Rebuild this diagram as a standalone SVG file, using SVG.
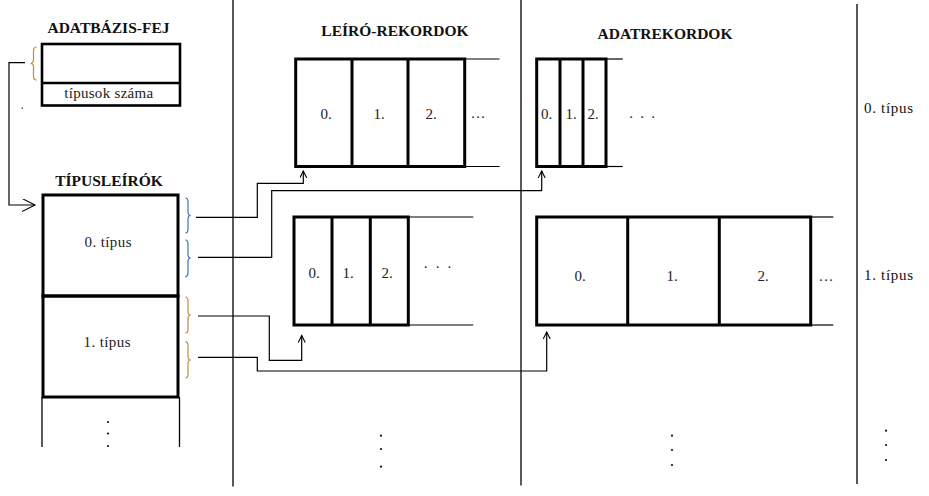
<svg xmlns="http://www.w3.org/2000/svg" width="929" height="496" viewBox="0 0 929 496">
<style>
.title{font-family:"Liberation Serif",serif;font-weight:bold;font-size:15.5px;fill:#111;text-anchor:middle}
.lbl{font-family:"Liberation Serif",serif;font-size:15px;fill:#222;text-anchor:middle}
.rlbl{font-family:"Liberation Serif",serif;font-size:15px;fill:#111}
.thick{fill:none;stroke:#000;stroke-width:3}
.med{fill:none;stroke:#000;stroke-width:2.6}
.thin{fill:none;stroke:#000;stroke-width:1.2}
.div{fill:none;stroke:#000;stroke-width:1.3}
.conn{fill:none;stroke:#000;stroke-width:1.2}
.bb{fill:none;stroke:#3b74bd;stroke-width:1.2}
.bo{fill:none;stroke:#c98a3a;stroke-width:1.2}
.dot{fill:#111}
</style>
<defs>
<marker id="big" markerUnits="userSpaceOnUse" markerWidth="15" markerHeight="15" refX="13" refY="6.5" orient="auto">
<path d="M0,0 L13,6.5 L0,13" fill="none" stroke="#000" stroke-width="1.1"/>
</marker>
<marker id="small" markerUnits="userSpaceOnUse" markerWidth="9" markerHeight="9" refX="7" refY="3.5" orient="auto">
<path d="M0,0 L7,3.5 L0,7" fill="none" stroke="#000" stroke-width="1.1"/>
</marker>
</defs>
<rect width="929" height="496" fill="#fff"/>

<g id="dividers">
<line class="div" x1="233" y1="0" x2="233" y2="486.5"/>
<line class="div" x1="521" y1="0" x2="521" y2="485.5"/>
<line class="div" x1="857" y1="4" x2="857" y2="484"/>
</g>

<g id="adatbazis-fej">
<text class="title" x="108.5" y="33">ADATBÁZIS-FEJ</text>
<rect class="med" x="42" y="44" width="138" height="61.5"/>
<line class="med" x1="42" y1="83" x2="180" y2="83"/>
<text class="lbl" x="108.7" y="98" font-size="14" textLength="89" lengthAdjust="spacing">típusok száma</text>
<path class="bo" d="M36.5,47 Q33.5,47 33.5,51 L33.5,59.5 Q33.5,63.3 30.5,63.3 Q33.5,63.3 33.5,67 L33.5,76 Q33.5,80 36.5,80"/>
<rect x="21.5" y="107.5" width="1.5" height="1.5" fill="#555"/>
</g>

<g id="tipusleirok">
<text class="title" x="109" y="186">TÍPUSLEÍRÓK</text>
<rect class="thick" x="43" y="195" width="135" height="101"/>
<rect class="thick" x="43" y="296" width="135" height="101"/>
<text class="lbl" x="108" y="247" textLength="47" lengthAdjust="spacing">0. típus</text>
<text class="lbl" x="107" y="347" textLength="47" lengthAdjust="spacing">1. típus</text>
<line class="div" x1="42" y1="397" x2="42" y2="447"/>
<line class="div" x1="179.5" y1="397" x2="179.5" y2="447"/>
<circle class="dot" cx="108" cy="422" r="1.1"/>
<circle class="dot" cx="108" cy="433.5" r="1.1"/>
<circle class="dot" cx="108" cy="446" r="1.1"/>
<path class="bb" d="M185.3,198 Q188,198 188,202 L188,212 Q188,215.5 190.7,215.5 Q188,215.5 188,219 L188,229 Q188,233 185.3,233"/>
<path class="bb" d="M185.3,240 Q188,240 188,244 L188,254.5 Q188,258 190.7,258 Q188,258 188,261.5 L188,272.5 Q188,276.7 185.3,276.7"/>
<path class="bo" d="M185.3,297 Q188,297 188,301 L188,311.5 Q188,315 190.7,315 Q188,315 188,318.5 L188,329 Q188,333 185.3,333"/>
<path class="bo" d="M185.3,341.7 Q188,341.7 188,345.7 L188,356.5 Q188,360 190.7,360 Q188,360 188,363.5 L188,374 Q188,378 185.3,378"/>
</g>

<g id="leiro-rekordok-title">
<text class="title" x="395" y="35.5">LEÍRÓ-REKORDOK</text>
</g>
<g id="adatrekordok-title">
<text class="title" x="665" y="38.5">ADATREKORDOK</text>
</g>

<g id="leiro-0">
<rect class="thick" x="295.7" y="59" width="169" height="107.5"/>
<line class="thick" x1="352" y1="59" x2="352" y2="166.5"/>
<line class="thick" x1="408" y1="59" x2="408" y2="166.5"/>
<line class="thin" x1="464.7" y1="59" x2="499.5" y2="59"/>
<line class="thin" x1="464.7" y1="166.5" x2="499.5" y2="166.5"/>
<text class="lbl" x="326" y="119">0.</text>
<text class="lbl" x="379" y="119">1.</text>
<text class="lbl" x="431" y="119">2.</text>
<text class="lbl" x="478" y="118">…</text>
</g>

<g id="adat-0">
<rect class="thick" x="536.7" y="59" width="69.3" height="107.5"/>
<line class="thick" x1="560" y1="59" x2="560" y2="166.5"/>
<line class="thick" x1="583" y1="59" x2="583" y2="166.5"/>
<line class="thin" x1="606" y1="59" x2="622.7" y2="59"/>
<line class="thin" x1="606" y1="166.5" x2="622.7" y2="166.5"/>
<text class="lbl" x="546.7" y="119">0.</text>
<text class="lbl" x="571" y="119">1.</text>
<text class="lbl" x="593" y="119">2.</text>
<text class="lbl" x="631 642 653" y="118">...</text>
</g>

<g id="leiro-1">
<rect class="thick" x="294" y="217" width="114.3" height="108"/>
<line class="thick" x1="332" y1="217" x2="332" y2="325"/>
<line class="thick" x1="370.3" y1="217" x2="370.3" y2="325"/>
<line class="thin" x1="408.3" y1="217" x2="473.3" y2="217"/>
<line class="thin" x1="408.3" y1="325" x2="473.3" y2="325"/>
<text class="lbl" x="314" y="278">0.</text>
<text class="lbl" x="348" y="278">1.</text>
<text class="lbl" x="387" y="278">2.</text>
<text class="lbl" x="425.7 437.7 449.3" y="268">...</text>
</g>

<g id="adat-1">
<rect class="thick" x="536.7" y="217" width="274" height="108"/>
<line class="thick" x1="627.7" y1="217" x2="627.7" y2="325"/>
<line class="thick" x1="719.3" y1="217" x2="719.3" y2="325"/>
<line class="thin" x1="810.7" y1="217" x2="833.3" y2="217"/>
<line class="thin" x1="810.7" y1="325" x2="833.3" y2="325"/>
<text class="lbl" x="580" y="281">0.</text>
<text class="lbl" x="672" y="281">1.</text>
<text class="lbl" x="763" y="281">2.</text>
<text class="lbl" x="826" y="281">…</text>
</g>

<g id="type-labels">
<text class="rlbl" x="864" y="113" textLength="49" lengthAdjust="spacing">0. típus</text>
<text class="rlbl" x="864" y="280" textLength="49" lengthAdjust="spacing">1. típus</text>
</g>

<g id="column-dots">
<circle class="dot" cx="381" cy="435.7" r="1.1"/>
<circle class="dot" cx="381" cy="449" r="1.1"/>
<circle class="dot" cx="381" cy="466.7" r="1.1"/>
<circle class="dot" cx="672" cy="435.7" r="1.1"/>
<circle class="dot" cx="672" cy="450" r="1.1"/>
<circle class="dot" cx="672" cy="465" r="1.1"/>
<circle class="dot" cx="886" cy="430.7" r="1.1"/>
<circle class="dot" cx="886" cy="445" r="1.1"/>
<circle class="dot" cx="886" cy="460" r="1.1"/>
</g>

<g id="connectors">
<path class="conn" d="M25,62.7 H9 V205 H35" marker-end="url(#big)"/>
<path class="conn" d="M196,217.3 H257.3 V183.3 H303.3 V171" marker-end="url(#small)"/>
<path class="conn" d="M198,257.3 H271.7 V190.7 H541.7 V171" marker-end="url(#small)"/>
<path class="conn" d="M198,316 H269.3 V360.3 H301.7 V335.5" marker-end="url(#small)"/>
<path class="conn" d="M198,357.3 H257.3 V371 H546.7 V332" marker-end="url(#small)"/>
</g>
</svg>
